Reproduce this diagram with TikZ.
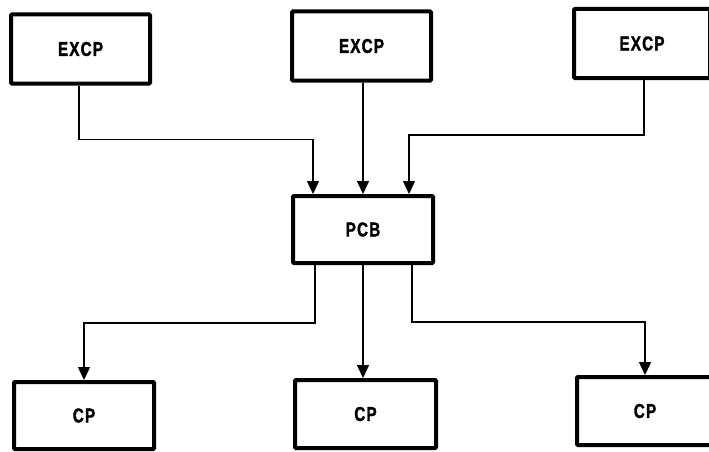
\documentclass[tikz,border=0pt]{standalone}
\usepackage{fontspec}
\setmainfont{Liberation Sans}[FakeStretch=0.76,LetterSpace=6,BoldFeatures={FakeBold=1.6}]
\usepackage{tikz}
\usetikzlibrary{arrows.meta,positioning,calc}

\tikzset{
  unit/.style={draw,line width=4pt,rounded corners=1pt,font=\bfseries\fontsize{20}{20}\selectfont,
    minimum width=139pt,minimum height=69pt,inner sep=0pt},
  link/.style={line width=1.5pt,-{Triangle[width=12pt,length=13pt]}}
}

\begin{document}
\begin{tikzpicture}[x=1pt,y=-1pt]
  \useasboundingbox (0,0) rectangle (709,452);

  % processors at the top
  \node[unit] (excpA) at (80.5,49) {EXCP};
  \node[unit] (excpB) at (361.5,46) {EXCP};
  \node[unit,minimum width=136pt] (excpC) at (642,43.5) {EXCP};

  \node[unit,minimum width=140pt,minimum height=67pt] (pcb) at (363,229.5) {PCB};

  % processors at the bottom
  \node[unit,minimum width=140pt,minimum height=67pt] (cpA) at (84,415.5) {CP};
  \node[unit,minimum width=141pt,minimum height=68pt] (cpB) at (365.5,414) {CP};
  \node[unit,minimum width=136pt,minimum height=68pt] (cpC) at (645,411) {CP};

  \draw[link] ([xshift=-1.5pt]excpA.south) -- ++(0,54) -| ([xshift=-50pt]pcb.north);
  \draw[link] (pcb.north |- excpB.south) -- (pcb.north);
  \draw[link] ([xshift=2pt]excpC.south) -- ++(0,55) -| ([xshift=46pt]pcb.north);

  \draw[link] ([xshift=-48pt]pcb.south) -- ++(0,58) -| (cpA.north);
  \draw[link] (pcb.south) -- (pcb.south |- cpB.north);
  \draw[link] ([xshift=49pt]pcb.south) -- ++(0,57) -| (cpC.north);
\end{tikzpicture}
\end{document}
